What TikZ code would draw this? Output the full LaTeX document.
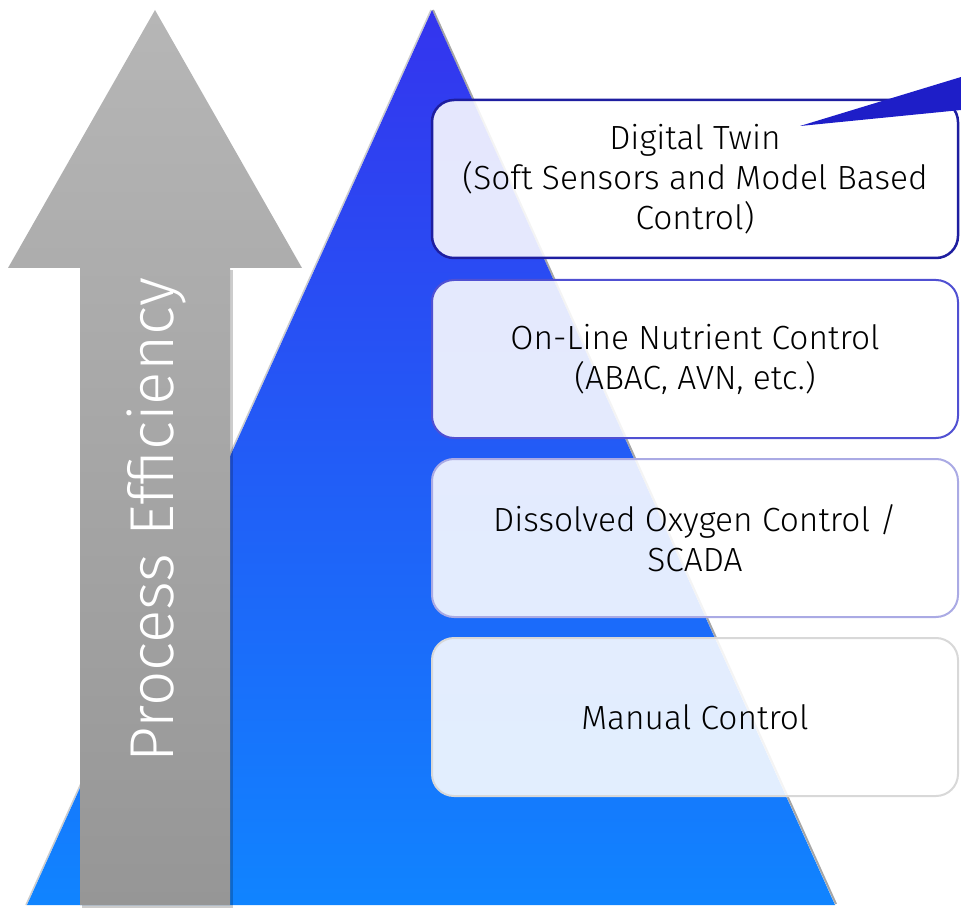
\documentclass[tikz,border=0pt]{standalone}
\usepackage{fontspec}
\setmainfont{Fira Sans}[UprightFont=* Light]
\usetikzlibrary{shadings}
\definecolor{triTop}{RGB}{52,52,238}
\definecolor{triBot}{RGB}{16,132,255}
\definecolor{arTop}{RGB}{182,182,182}
\definecolor{arBot}{RGB}{150,150,150}
\definecolor{bA}{RGB}{30,30,160}
\definecolor{bB}{RGB}{80,80,210}
\definecolor{bC}{RGB}{170,170,228}
\definecolor{bD}{RGB}{216,216,216}
\definecolor{callout}{RGB}{30,30,200}
\tikzset{
  levelbox/.style={draw, line width=2pt, rounded corners=22pt, fill=white, fill opacity=0.88, text opacity=1,
    minimum width=526pt, minimum height=158pt, align=center, font=\fontsize{33.5}{40}\selectfont, text=black, inner sep=0pt},
}
\begin{document}
\begin{tikzpicture}[x=1pt,y=-1pt]
\useasboundingbox (0,0) rectangle (961,909);
% pyramid
\coordinate (apex) at (432,10);
\coordinate (bl) at (27,905);
\coordinate (br) at (835,905);
\draw[gray!70, line width=2pt] (433,10) -- (836,904);
\draw[gray!40, line width=1.5pt] (431,10) -- (26,905);
\shade[top color=triTop, bottom color=triBot] (apex) -- (br) -- (bl) -- cycle;
% arrow
\fill[black, opacity=0.2] (82,270) -- (82,908) -- (233,908) -- (233,270) -- cycle;
\shade[top color=arTop, bottom color=arBot]
  (155,10) -- (302,268) -- (230,268) -- (230,905) -- (80,905) -- (80,268) -- (8,268) -- cycle;
\node[rotate=90, text=white, font=\fontsize{62}{70}\selectfont] (pe) at (156,520) {Process Efficiency};
% boxes
\node[levelbox, draw=bA, line width=2.5pt] (b1) at (695,179) {Digital Twin\\(Soft Sensors and Model Based\\Control)};
\node[levelbox, draw=bB] (b2) at (695,359) {On-Line Nutrient Control\\(ABAC, AVN, etc.)};
\node[levelbox, draw=bC] (b3) at (695,538) {Dissolved Oxygen Control /\\SCADA};
\node[levelbox, draw=bD] (b4) at (695,717) {Manual Control};
% callout
\coordinate (ctip) at (800,126);
\fill[callout] (ctip) -- (961,77) -- (961,110) -- cycle;
\end{tikzpicture}
\end{document}
